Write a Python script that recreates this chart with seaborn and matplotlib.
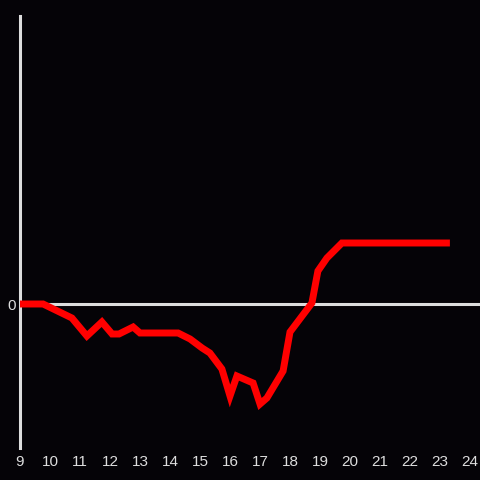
import matplotlib
matplotlib.use("Agg")
import matplotlib.pyplot as plt
import seaborn as sns
import pandas as pd

# data (x = hour, y = change)
hours = [9.0, 9.77, 10.73, 11.23, 11.73, 12.07, 12.3, 12.77, 13.0, 14.27,
         14.67, 15.07, 15.33, 15.73, 16.0, 16.23, 16.77, 17.0, 17.23, 17.77,
         18.0, 18.73, 18.93, 19.23, 19.73, 23.33]
change = [0, 0, -14, -32, -18, -30, -30, -23, -29, -29,
          -35, -44, -49, -65, -92, -72, -79, -100, -94, -67,
          -28, 1, 33, 46, 61, 61]
xticks = list(range(9, 25))

df = pd.DataFrame({"hour": hours, "change": change})

bg = "#050307"
fg = "#dddddd"

sns.set_style("dark")
plt.rcParams["font.family"] = ["Liberation Sans", "DejaVu Sans"]

fig = plt.figure(figsize=(4.8, 4.8), dpi=100, facecolor=bg)
ax = fig.add_axes([20 / 480, 32 / 480, 460 / 480, 432 / 480])
ax.set_facecolor(bg)

ax.axhline(0, color=fg, lw=2.2, zorder=1)
sns.lineplot(data=df, x="hour", y="change", color="#ff0000", lw=5,
             ax=ax, zorder=3, solid_joinstyle="miter", solid_capstyle="butt")

ax.set_xlim(9, 9 + 460 / 30)
ax.set_ylim(-144, 288)
ax.set_xticks(xticks)
ax.set_yticks([0])
ax.set_xlabel("")
ax.set_ylabel("")
ax.grid(False)
ax.tick_params(length=0, colors=fg, labelsize=11, pad=5)
ax.tick_params(axis="y", pad=3)

for side in ["top", "right", "bottom"]:
    ax.spines[side].set_visible(False)
ax.spines["left"].set_color(fg)
ax.spines["left"].set_linewidth(2.2)

fig.savefig("out.png", dpi=100, facecolor=bg)
